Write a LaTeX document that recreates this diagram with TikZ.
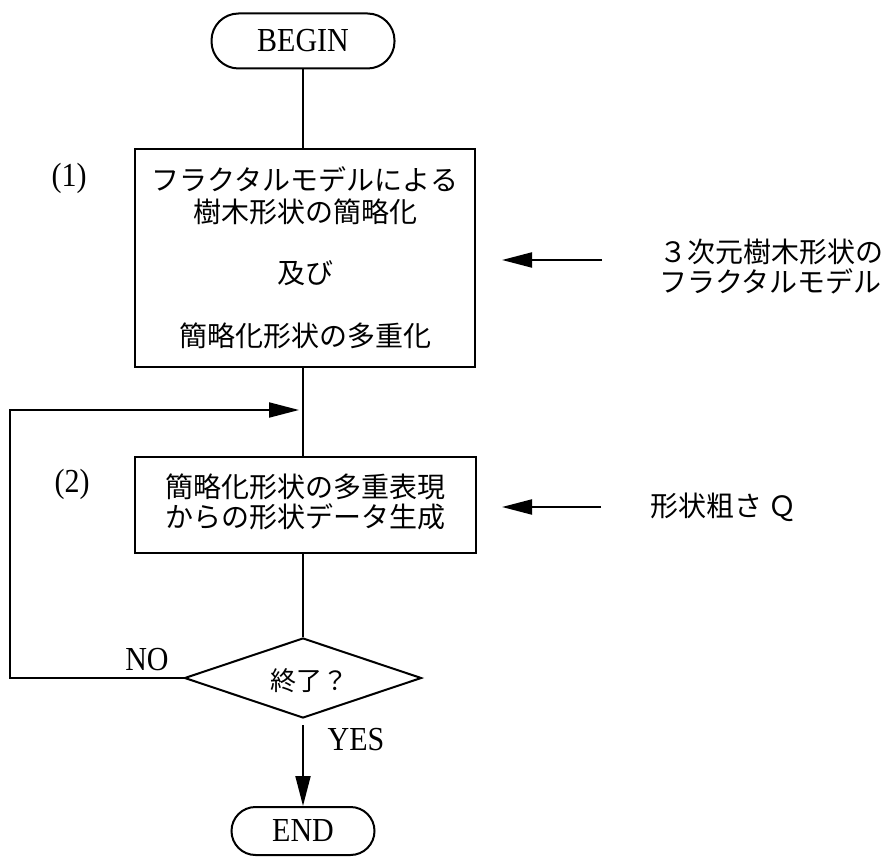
\documentclass[tikz,border=0pt]{standalone}
\usepackage{graphicx}
\usepackage{fontspec}
\setmainfont{Liberation Serif}
\newfontfamily\jp{Noto Sans CJK JP}
\newcommand\tallt[1]{\scalebox{1}[1.12]{#1}}
\usetikzlibrary{shapes.geometric,arrows.meta}
\begin{document}
\begin{tikzpicture}[x=1pt,y=-1pt,line width=2pt,
  term/.style={draw,rounded corners=24pt,inner sep=0pt,font=\fontsize{30}{30}\selectfont},
  procbox/.style={draw,inner sep=0pt,align=center,font=\jp\fontsize{28}{32}\selectfont},
  decision/.style={draw,diamond,inner sep=0pt,font=\jp\fontsize{26}{30}\selectfont},
  jtext/.style={inner sep=0pt,align=left,font=\jp\fontsize{28}{30}\selectfont},
  ltext/.style={inner sep=0pt,font=\fontsize{30}{30}\selectfont},
  arr/.style={-{Triangle[length=30pt,width=15pt]}}]
\useasboundingbox (0,0) rectangle (889,858);
% nodes
\node[term,minimum width=183pt,minimum height=55pt,rounded corners=27pt] (begin) at (303,41) {\tallt{BEGIN}};
\node[procbox,minimum width=340pt,minimum height=218pt] (box1) at (305,258)
  {フラクタルモデルによる\\樹木形状の簡略化\\[29pt]及び\\[31pt]簡略化形状の多重化};
\node[procbox,minimum width=341pt,minimum height=96pt] (box2) at (305,504.5) {};
\node[jtext,align=center] (box2t) at (305,502) {簡略化形状の多重表現\\からの形状データ生成};
\node[decision,minimum width=237pt,minimum height=80pt] (dec) at (303,678) {};
\node[jtext,font=\jp\fontsize{26}{30}\selectfont] (dect) at (309,681) {終了？};
\node[term,minimum width=143pt,minimum height=48pt] (end) at (303,831) {\tallt{END}};
% labels
\node[ltext] (l1) at (69,178) {\tallt{(1)}};
\node[ltext] (l2) at (72,484) {\tallt{(2)}};
\node[ltext] (no) at (147,660) {\tallt{NO}};
\node[ltext] (yes) at (356,740) {\tallt{YES}};
\node[jtext,anchor=west] (in1) at (658,267) {３次元樹木形状の\\フラクタルモデル};
\node[jtext,anchor=west] (in2) at (649,507) {形状粗さ Ｑ};
% coordinates
\coordinate (a1) at (602,260);
\coordinate (b1) at (502,260);
\coordinate (a2) at (601,507);
\coordinate (b2) at (502,507);
\coordinate (loopc) at (10,678);
\coordinate (loopend) at (299,410);
\coordinate (decs) at (303,725);
% connectors
\draw (begin.south) -- (begin.south |- box1.north);
\draw (box1.south -| begin.south) -- (box2.north -| begin.south);
\draw (box2.south -| begin.south) -- (dec.north);
\draw[arr] (decs) -- (end.north);
\draw[arr] (dec.west) -- (loopc) |- (loopend);
\draw[arr] (a1) -- (b1);
\draw[arr] (a2) -- (b2);
\end{tikzpicture}
\end{document}
